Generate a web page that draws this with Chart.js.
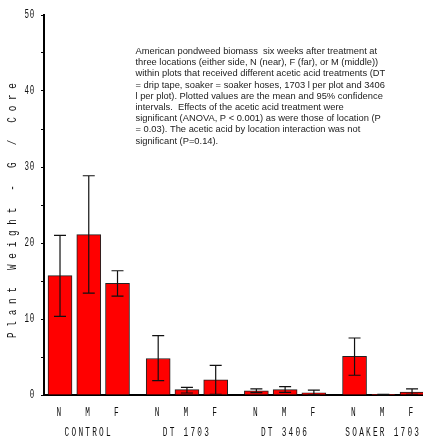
<!DOCTYPE html>
<html>
<head>
<meta charset="utf-8">
<script src="https://cdn.jsdelivr.net/npm/chart.js@4.4.1/dist/chart.umd.min.js"></script>
<style>
  html, body { margin: 0; padding: 0; background: #fff; }
  #wrap { width: 423px; height: 438px; position: relative; }
</style>
</head>
<body>
<div id="wrap"><canvas id="c" width="423" height="438"></canvas></div>
<script>
// ---- data ----
const groups = ['CONTROL', 'DT 1703', 'DT 3406', 'SOAKER 1703'];
const locations = ['N', 'M', 'F'];
const means = [15.7, 21.1, 14.7, 4.8, 0.7, 2.0, 0.55, 0.7, 0.3, 5.1, 0.05, 0.4];
const upperCI = [21.0, 28.85, 16.35, 7.8, 1.0, 3.9, 0.8, 1.1, 0.65, 7.5, 0.08, 0.8];
const lowerCI = [10.35, 13.4, 13.0, 1.9, 0.26, 0.1, 0.3, 0.35, 0.02, 2.6, 0.02, 0.1];
const yTickValues = [0, 10, 20, 30, 40, 50];
const yTitle = 'Plant Weight - G / Core';
const noteLines = [
  'American pondweed biomass  six weeks after treatment at',
  'three locations (either side, N (near), F (far), or M (middle))',
  'within plots that received different acetic acid treatments (DT',
  '= drip tape, soaker = soaker hoses, 1703 l per plot and 3406',
  'l per plot). Plotted values are the mean and 95% confidence',
  'intervals.  Effects of the acetic acid treatment were',
  'significant (ANOVA, P < 0.001) as were those of location (P',
  '= 0.03). The acetic acid by location interaction was not',
  'significant (P=0.14).'
];

// ---- layout helpers ----
const GROUP_STEP = 3.415;
const posOf = (g, i) => g * GROUP_STEP + i;
const points = [];
const tickLabels = [];
groups.forEach((g, gi) => locations.forEach((l, li) => {
  const k = gi * locations.length + li;
  points.push({ x: posOf(gi, li), y: means[k] });
  tickLabels.push(li === 1 ? [l, g] : l);
}));
const tickPositions = points.map(p => p.x);

const MONO = '"Liberation Mono", "DejaVu Sans Mono", monospace';

// draw the library's own tick labels horizontally condensed (plotter-style font)
function condense(scale, sx, spacing) {
  if (scale._condensed) return;
  const orig = scale.drawLabels.bind(scale);
  scale.drawLabels = function (area) {
    const ctx = this.ctx;
    const f = CanvasRenderingContext2D.prototype.fillText;
    ctx.save();
    ctx.letterSpacing = spacing;
    ctx.fillText = function (t, x, y) {
      this.save(); this.translate(x, y); this.scale(sx, 1); f.call(this, t, 0, 0); this.restore();
    };
    try { orig(area); } finally { delete ctx.fillText; ctx.restore(); }
  };
  scale._condensed = true;
}

const condensePlugin = {
  id: 'condense',
  beforeDraw(chart) {
    condense(chart.scales.x, 0.6, '3.7px');
    condense(chart.scales.y, 0.6, '1.2px');
  }
};

const errorBars = {
  id: 'errorBars',
  afterDatasetsDraw(chart) {
    const { ctx, scales: { x, y } } = chart;
    ctx.save();
    ctx.strokeStyle = '#111';
    ctx.lineWidth = 1.2;
    points.forEach((p, k) => {
      const px = x.getPixelForValue(p.x);
      const yt = y.getPixelForValue(upperCI[k]);
      const yb = y.getPixelForValue(lowerCI[k]);
      const hw = 6;
      ctx.beginPath();
      ctx.moveTo(px, yt); ctx.lineTo(px, yb);
      ctx.moveTo(px - hw, yt); ctx.lineTo(px + hw, yt);
      ctx.moveTo(px - hw, yb); ctx.lineTo(px + hw, yb);
      ctx.stroke();
    });
    ctx.restore();
  }
};

const textPlugin = {
  id: 'texts',
  afterDraw(chart) {
    const ctx = chart.ctx;
    ctx.save();
    // y axis title, plotter-style condensed and spaced
    const sx = 0.72;
    ctx.font = '13px ' + MONO;
    ctx.letterSpacing = '0px';
    const w0 = ctx.measureText(yTitle).width * sx;
    const span = 255;
    const ls = (span - w0) / (yTitle.length - 1);
    ctx.letterSpacing = (ls / sx).toFixed(2) + 'px';
    ctx.translate(13, 210.5);
    ctx.rotate(-Math.PI / 2);
    ctx.scale(sx, 1);
    ctx.fillStyle = '#111';
    ctx.textAlign = 'center';
    ctx.textBaseline = 'middle';
    ctx.fillText(yTitle, (ls / sx) / 2, 0);
    ctx.restore();

    // note, sized so its widest line spans the same width as in the original
    ctx.save();
    ctx.letterSpacing = '0px';
    const fam = '"Liberation Sans", Arial, sans-serif';
    ctx.font = '10px ' + fam;
    const wRef = ctx.measureText(noteLines[2]).width;
    const size = 10 * 250 / wRef;
    ctx.font = size.toFixed(2) + 'px ' + fam;
    ctx.fillStyle = '#222';
    ctx.textBaseline = 'middle';
    noteLines.forEach((t, i) => ctx.fillText(t, 135.5, 51.5 + i * 11.2));
    ctx.restore();
  }
};

new Chart(document.getElementById('c'), {
  type: 'bar',
  data: {
    datasets: [{
      data: points,
      backgroundColor: '#ff0000',
      borderColor: '#222',
      borderWidth: 1,
      barThickness: 24
    }]
  },
  options: {
    responsive: false,
    animation: false,
    events: [],
    layout: { padding: { top: 15, right: 0, left: 0, bottom: 0 } },
    plugins: { legend: { display: false }, tooltip: { enabled: false } },
    scales: {
      x: {
        type: 'linear',
        offset: false,
        min: -0.557,
        max: 12.626,
        afterBuildTicks(scale) { scale.ticks = tickPositions.map(v => ({ value: v })); },
        afterFit(scale) { scale.height = 43; },
        grid: { display: false, offset: false },
        border: { display: true, color: '#000', width: 2 },
        ticks: {
          autoSkip: false,
          maxRotation: 0,
          padding: 0,
          color: '#111',
          font: { family: MONO, size: 13, lineHeight: 20 / 13 },
          callback(v, i) { return tickLabels[i]; }
        }
      },
      y: {
        min: 0,
        max: 50,
        afterBuildTicks(scale) {
          const t = [];
          for (let v = 0; v <= 50; v += 5) t.push({ value: v });
          scale.ticks = t;
        },
        afterFit(scale) { scale.width = 44; },
        grid: { drawOnChartArea: false, drawTicks: true, tickLength: 3, color: '#000', lineWidth: 1 },
        border: { display: true, color: '#000', width: 2 },
        ticks: {
          padding: 6,
          color: '#111',
          font: { family: MONO, size: 12.5 },
          callback(v) { return yTickValues.includes(v) ? String(v) : ''; }
        }
      }
    }
  },
  plugins: [condensePlugin, errorBars, textPlugin]
});
</script>
</body>
</html>
